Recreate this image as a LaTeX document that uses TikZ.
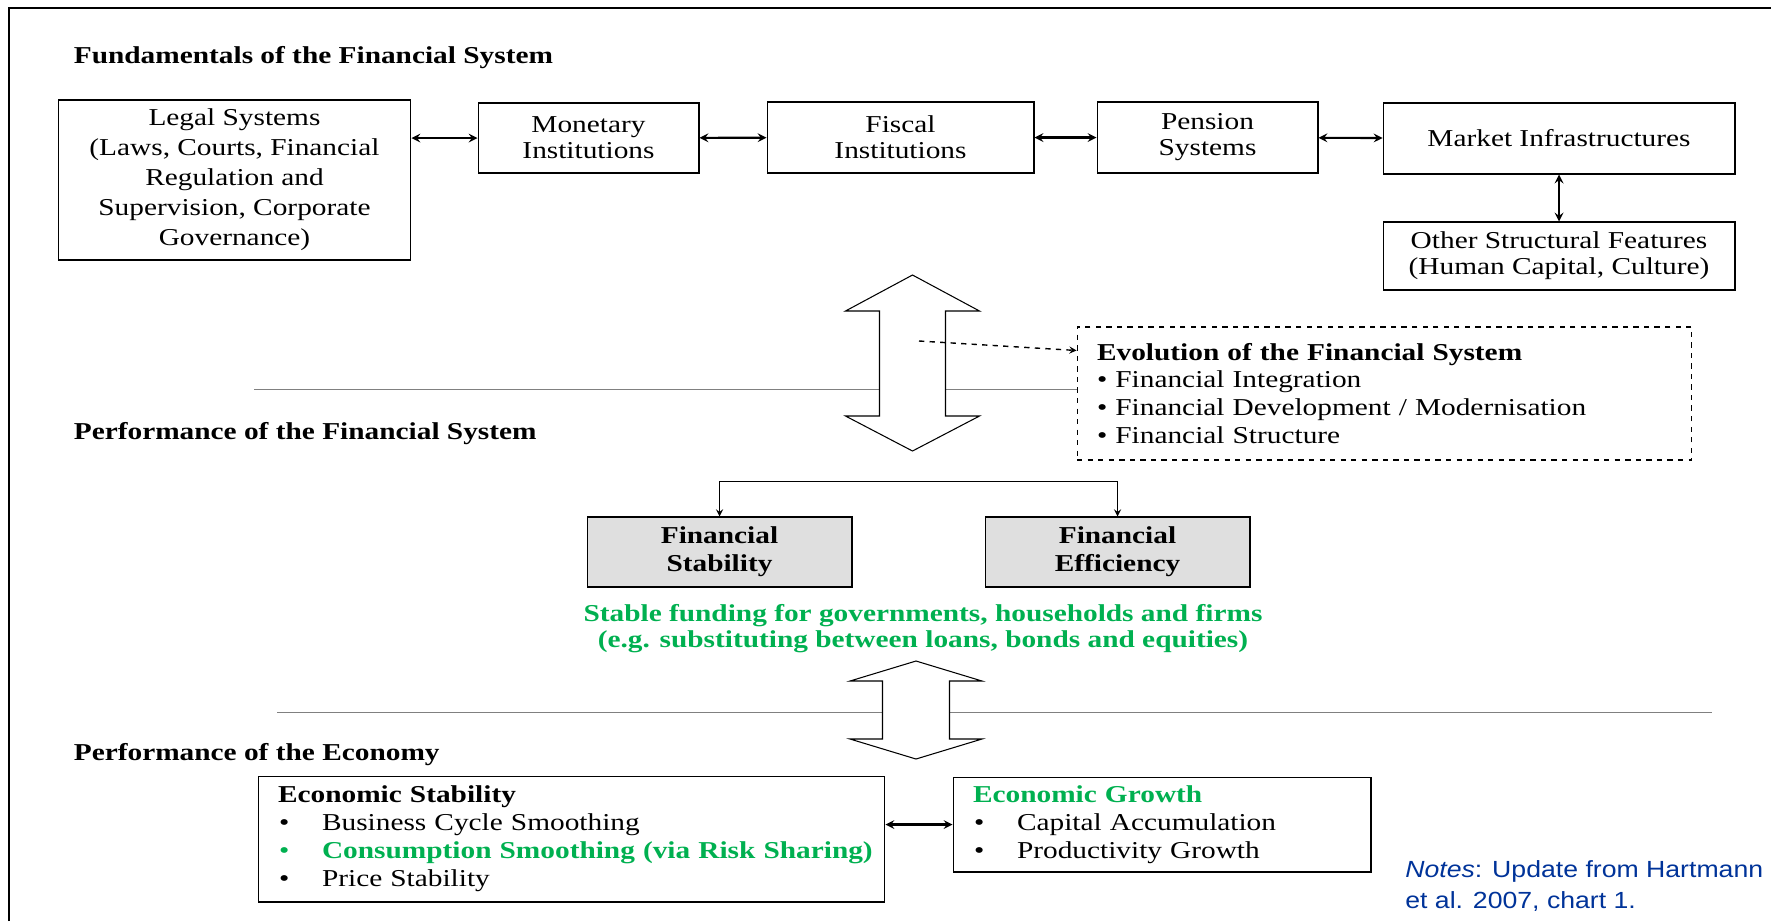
\documentclass[tikz,border=0pt]{standalone}
\usepackage{fontspec}
\setmainfont{Liberation Serif}[FakeStretch=1.21]
\newfontfamily\notesfont{Liberation Sans}[FakeStretch=1.14]

\definecolor{fsgreen}{RGB}{0,176,80}
\definecolor{notesblue}{RGB}{0,51,153}

\newcommand{\listbullet}{\hspace*{0.02cm}\makebox[0.86cm][l]{•}}

\begin{document}
\begin{tikzpicture}[x=0.02cm,y=-0.02cm,font=\fontsize{13.8}{14.8}\selectfont]

		\tikzstyle{block}=[rectangle,draw=black,semithick,align=center,inner sep=1mm]
		\tikzstyle{shaded}=[block,fill=gray!25,minimum width=5.3cm,minimum height=1.4cm,
			font=\fontsize{13.8}{15.9}\selectfont\bfseries]
		\tikzstyle{listbox}=[block,align=left,inner xsep=0.4cm,
			font=\fontsize{13.8}{15.9}\selectfont]
		\tikzstyle{heading}=[anchor=west,inner sep=0pt,font=\fontsize{13.8}{14.8}\selectfont\bfseries]
		\tikzstyle{rule}=[gray,line width=0.4pt]
		\tikzstyle{bigarrow}=[draw=black,fill=white,semithick]

		\useasboundingbox (0,0) rectangle (1771,921);
		\draw[line width=0.7pt] (9,921) -- (9,8) -- (1771,8);

		% fundamentals
		\node[heading] (fundhead) at (73.5,57.5) {Fundamentals of the Financial System};
		\node[block,minimum width=7.06cm,minimum height=3.2cm,font=\fontsize{13.8}{17.1}\selectfont]
			(legal) at (234.5,180) {Legal Systems\\(Laws, Courts, Financial\\Regulation and\\Supervision, Corporate\\Governance)};
		\node[block,minimum width=4.42cm,minimum height=1.4cm] (monetary) at (588.5,138) {Monetary\\Institutions};
		\node[block,minimum width=5.34cm,minimum height=1.42cm] (fiscal) at (900.5,137.5) {Fiscal\\Institutions};
		\node[block,minimum width=4.42cm,minimum height=1.42cm] (pension) at (1207.5,137.5) {Pension\\Systems};
		\node[block,minimum width=7.04cm,minimum height=1.42cm] (market) at (1559,138.5) {Market Infrastructures};
		\node[block,minimum width=7.04cm,minimum height=1.36cm] (other) at (1559,256) {Other Structural Features\\(Human Capital, Culture)};

		\draw[<->,>=stealth,very thick] (legal.east |- monetary.west) to (monetary.west);
		\draw[<->,>=stealth,very thick] (monetary) to (fiscal);
		\draw[<->,>=stealth,very thick] (fiscal) to (pension);
		\draw[<->,>=stealth,very thick] (pension) to (market);
		\draw[<->,>=stealth,very thick] (market) to (other);

		% evolution
		\node[listbox,dashed,text width=11.5cm,minimum height=2.66cm] (evo) at (1384.5,393.5)
			{\textbf{Evolution of the Financial System}\\• Financial Integration\\• Financial Development / Modernisation\\• Financial Structure};

		% performance of the financial system
		\draw[rule] (254,389) -- (evo.west |- 0,389);
		\node[heading] (perfhead) at (73.5,433.5) {Performance of the Financial System};
		\draw[bigarrow] (912.5,275) -- (979.5,311) -- (945.5,311) -- (945.5,416) -- (979.5,416) -- (912.5,451)
			-- (845.5,416) -- (879.5,416) -- (879.5,311) -- (845.5,311) -- cycle;
		\coordinate (evofrom) at (919,341);
		\draw[->,>=stealth,thick,dashed] (evofrom) to ([yshift=-0.48cm]evo.north west);

		\node[shaded] (stability) at (719.5,552) {Financial\\Stability};
		\node[shaded] (efficiency) at (1117.5,552) {Financial\\Efficiency};
		\draw[<->,>=stealth,thick] (stability.north) -- ++(0,-35) -| (efficiency.north);

		\node[align=center,text=fsgreen,font=\fontsize{13.8}{14.8}\selectfont\bfseries] (funding) at (923,629)
			{Stable funding for governments, households and firms\\(e.g. substituting between loans, bonds and equities)};

		% performance of the economy
		\draw[rule] (277,712) -- (1712,712);
		\draw[bigarrow] (916,661) -- (982,681) -- (949.5,681) -- (949.5,739) -- (982,739) -- (916,759)
			-- (850,739) -- (882.5,739) -- (882.5,681) -- (850,681) -- cycle;
		\node[heading] (econhead) at (73.5,754.5) {Performance of the Economy};

		\node[listbox,text width=11.74cm,minimum height=2.52cm] (econstab) at (571.5,839)
			{\textbf{Economic Stability}\\\listbullet Business Cycle Smoothing\\
			\mbox{\textcolor{fsgreen}{\listbullet\textbf{Consumption Smoothing (via Risk Sharing)}}}\\\listbullet Price Stability};
		\node[listbox,text width=7.56cm,minimum height=1.9cm] (growth) at (1162,824.5)
			{\textcolor{fsgreen}{\textbf{Economic Growth}}\\\listbullet Capital Accumulation\\\listbullet Productivity Growth};
		\draw[<->,>=stealth,very thick] (econstab.east |- growth.west) to (growth.west);

		\node[anchor=west,inner sep=0pt,align=left,text=notesblue,font=\notesfont\fontsize{13.3}{18.2}\selectfont]
			(notes) at (1405,886) {\textit{Notes}: Update from Hartmann\\et al. 2007, chart 1.};

\end{tikzpicture}
\end{document}
